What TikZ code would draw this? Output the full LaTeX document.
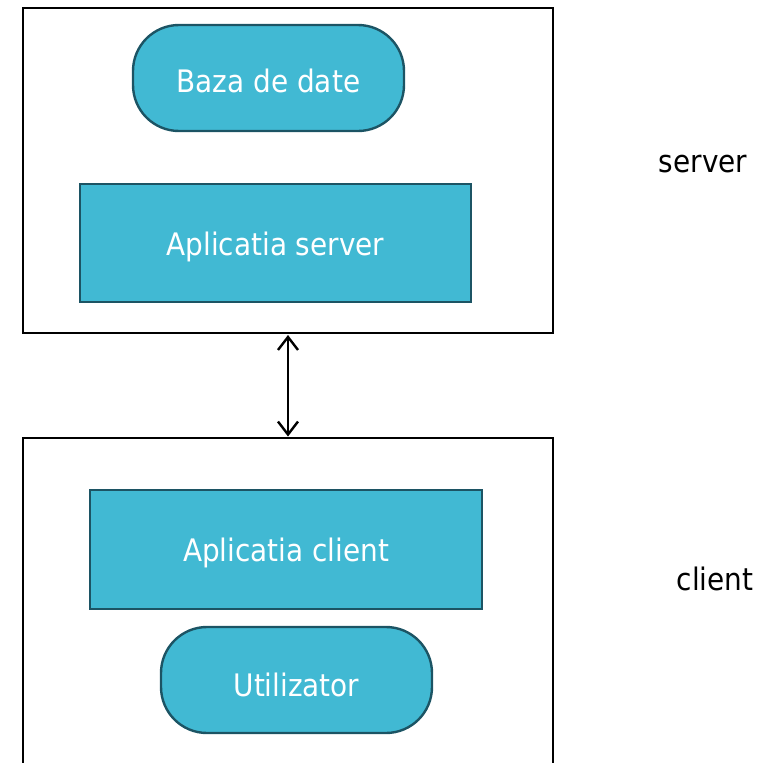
\documentclass[tikz,border=0pt]{standalone}
\usepackage{fontspec}
\setmainfont{DejaVu Sans Condensed}
\usetikzlibrary{arrows.meta}
\definecolor{boxfill}{RGB}{65,185,211}
\definecolor{boxline}{RGB}{28,84,100}
\tikzset{
  tier/.style={draw=black, line width=2.6pt},
  appbox/.style={draw=boxline, fill=boxfill, line width=2.4pt},
  roundbox/.style={appbox, rounded corners=46pt},
  apptext/.style={text=white, font=\fontsize{31}{36}\selectfont},
  tierlabel/.style={font=\fontsize{31}{36}\selectfont, text=black},
  link/.style={line width=2.4pt,
    {Straight Barb[length=13pt,width=20pt,line width=2.4pt]}-{Straight Barb[length=13pt,width=20pt,line width=2.4pt]}},
}
\begin{document}
\begin{tikzpicture}[x=1pt, y=-1pt]
  \useasboundingbox (0,0) rectangle (780,763);
  % server tier
  \draw[tier] (23,8) rectangle (553,333);
  \coordinate (srvbottom) at (288,333);
  \draw[roundbox] (133,25) rectangle (404,131);
  \node[apptext] (db) at (268.5,80.5) {Baza de date};
  \draw[appbox] (80,184) rectangle (471,302);
  \node[apptext] (srvapp) at (275.5,246.5) {Aplicatia server};
  \node[tierlabel] (srvlabel) at (703,164) {server};
  % client tier
  \draw[tier] (23,790) -- (23,438) -- (553,438) -- (553,790);
  \coordinate (clitop) at (288,438);
  \draw[appbox] (90,490) rectangle (482,609);
  \node[apptext] (cliapp) at (286,553) {Aplicatia client};
  \draw[roundbox] (161,627) rectangle (432,733);
  \node[apptext] (user) at (296.5,685) {Utilizator};
  \node[tierlabel] (clilabel) at (715,579) {client};
  % link between tiers
  \draw[link] ([yshift=-2pt]srvbottom) -- ([yshift=1.5pt]clitop);
\end{tikzpicture}
\end{document}
